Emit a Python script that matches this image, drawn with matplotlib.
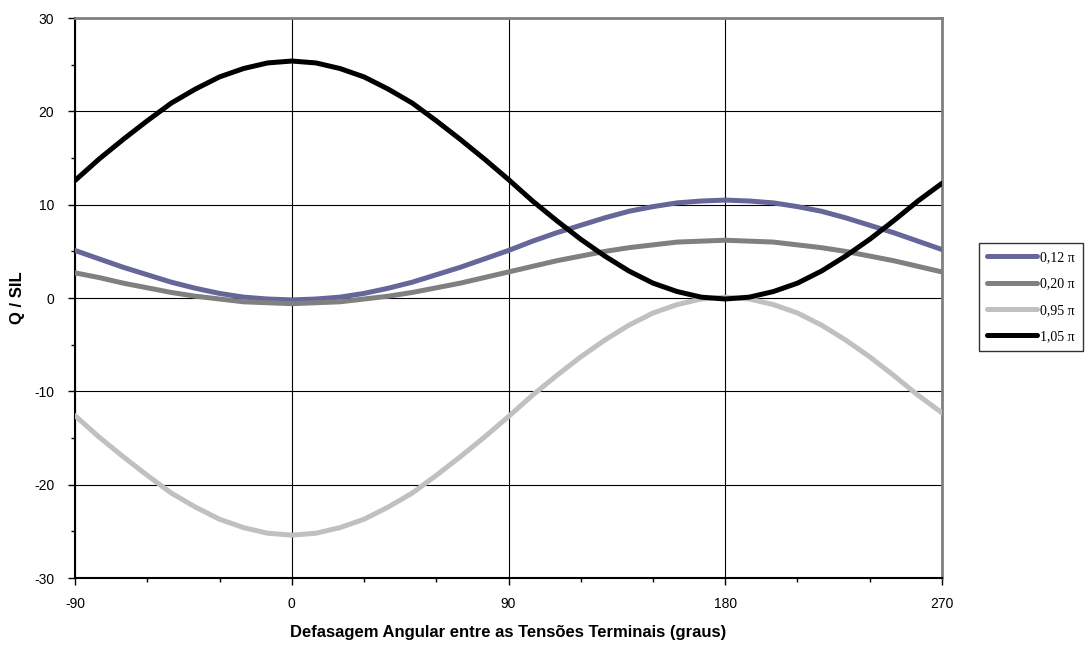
import numpy as np
import matplotlib.pyplot as plt
from matplotlib.ticker import MultipleLocator

# angle (degrees)
ang = list(range(-90, 271, 10))

q_012 = [5.1, 4.2, 3.3, 2.5, 1.7, 1.05, 0.5, 0.1, -0.1, -0.2, -0.1, 0.1, 0.5, 1.05, 1.7, 2.5, 3.3, 4.2, 5.1,
         6.1, 7.0, 7.8, 8.6, 9.3, 9.8, 10.2, 10.4, 10.5, 10.4, 10.2, 9.8, 9.3, 8.6, 7.8, 7.0, 6.1, 5.2]
q_020 = [2.7, 2.2, 1.6, 1.1, 0.6, 0.2, -0.1, -0.4, -0.5, -0.6, -0.5, -0.4, -0.1, 0.2, 0.6, 1.1, 1.6, 2.2, 2.8,
         3.4, 4.0, 4.5, 5.0, 5.4, 5.7, 6.0, 6.1, 6.2, 6.1, 6.0, 5.7, 5.4, 5.0, 4.5, 4.0, 3.4, 2.8]
q_095 = [-12.6, -14.9, -17.0, -19.0, -20.9, -22.4, -23.7, -24.6, -25.2, -25.4, -25.2, -24.6, -23.7, -22.4,
         -20.9, -19.0, -17.0, -14.9, -12.7, -10.4, -8.3, -6.3, -4.5, -2.9, -1.6, -0.7, -0.1, 0.1, -0.1, -0.7,
         -1.6, -2.9, -4.5, -6.3, -8.3, -10.4, -12.3]
q_105 = [12.6, 14.9, 17.0, 19.0, 20.9, 22.4, 23.7, 24.6, 25.2, 25.4, 25.2, 24.6, 23.7, 22.4, 20.9, 19.0,
         17.0, 14.9, 12.7, 10.4, 8.3, 6.3, 4.5, 2.9, 1.6, 0.7, 0.1, -0.1, 0.1, 0.7, 1.6, 2.9, 4.5, 6.3, 8.3,
         10.4, 12.3]

labels = ["0,12 \u03c0", "0,20 \u03c0", "0,95 \u03c0", "1,05 \u03c0"]
series = [q_012, q_020, q_095, q_105]
colors = ["#666699", "#808080", "#c0c0c0", "#000000"]

plt.rcParams['font.family'] = ['Liberation Sans', 'DejaVu Sans']
plt.rcParams['axes.unicode_minus'] = False

fig = plt.figure(figsize=(10.89, 6.47), dpi=100)
ax = fig.add_axes([0.0689, 0.1066, 0.7961, 0.8654])

for y, lab, c in zip(series, labels, colors):
    ax.plot(ang, y, color=c, lw=3.6, label=lab, solid_capstyle='round', solid_joinstyle='round', zorder=3)

ax.set_xlim(-90, 270)
ax.set_ylim(-30, 30)
ax.xaxis.set_major_locator(MultipleLocator(90))
ax.xaxis.set_minor_locator(MultipleLocator(30))
ax.yaxis.set_major_locator(MultipleLocator(10))
ax.yaxis.set_minor_locator(MultipleLocator(5))
ax.grid(True, which='major', color='black', lw=0.8)
ax.tick_params(which='major', direction='out', length=5, width=1, labelsize=10)
ax.tick_params(axis='x', which='major', pad=9)
ax.tick_params(axis='y', which='major', pad=10)
ax.tick_params(which='minor', direction='out', length=3, width=1)

for s in ['left', 'bottom']:
    ax.spines[s].set_color('black')
    ax.spines[s].set_linewidth(1.5)
for s in ['top', 'right']:
    ax.spines[s].set_color('#808080')
    ax.spines[s].set_linewidth(2)

ax.set_xlabel("Defasagem Angular entre as Tensões Terminais (graus)", fontsize=12, fontweight='bold')
ax.set_ylabel("Q / SIL", fontsize=12, fontweight='bold')
ax.xaxis.set_label_coords(0.5, -0.098)
ax.yaxis.set_label_coords(-0.066, 0.5)
ax.xaxis.label.set_va('center')
ax.yaxis.label.set_va('center')

leg = fig.legend(loc='upper left', bbox_to_anchor=(979 / 1089, 1 - 243 / 647), frameon=True, fancybox=False,
                 edgecolor='black', prop={'family': 'Liberation Serif', 'size': 10}, handlelength=3.6,
                 handletextpad=0.2, labelspacing=0.95, borderpad=0.6, borderaxespad=0)
leg.get_frame().set_linewidth(1.0)

fig.savefig("out.png", dpi=100)
